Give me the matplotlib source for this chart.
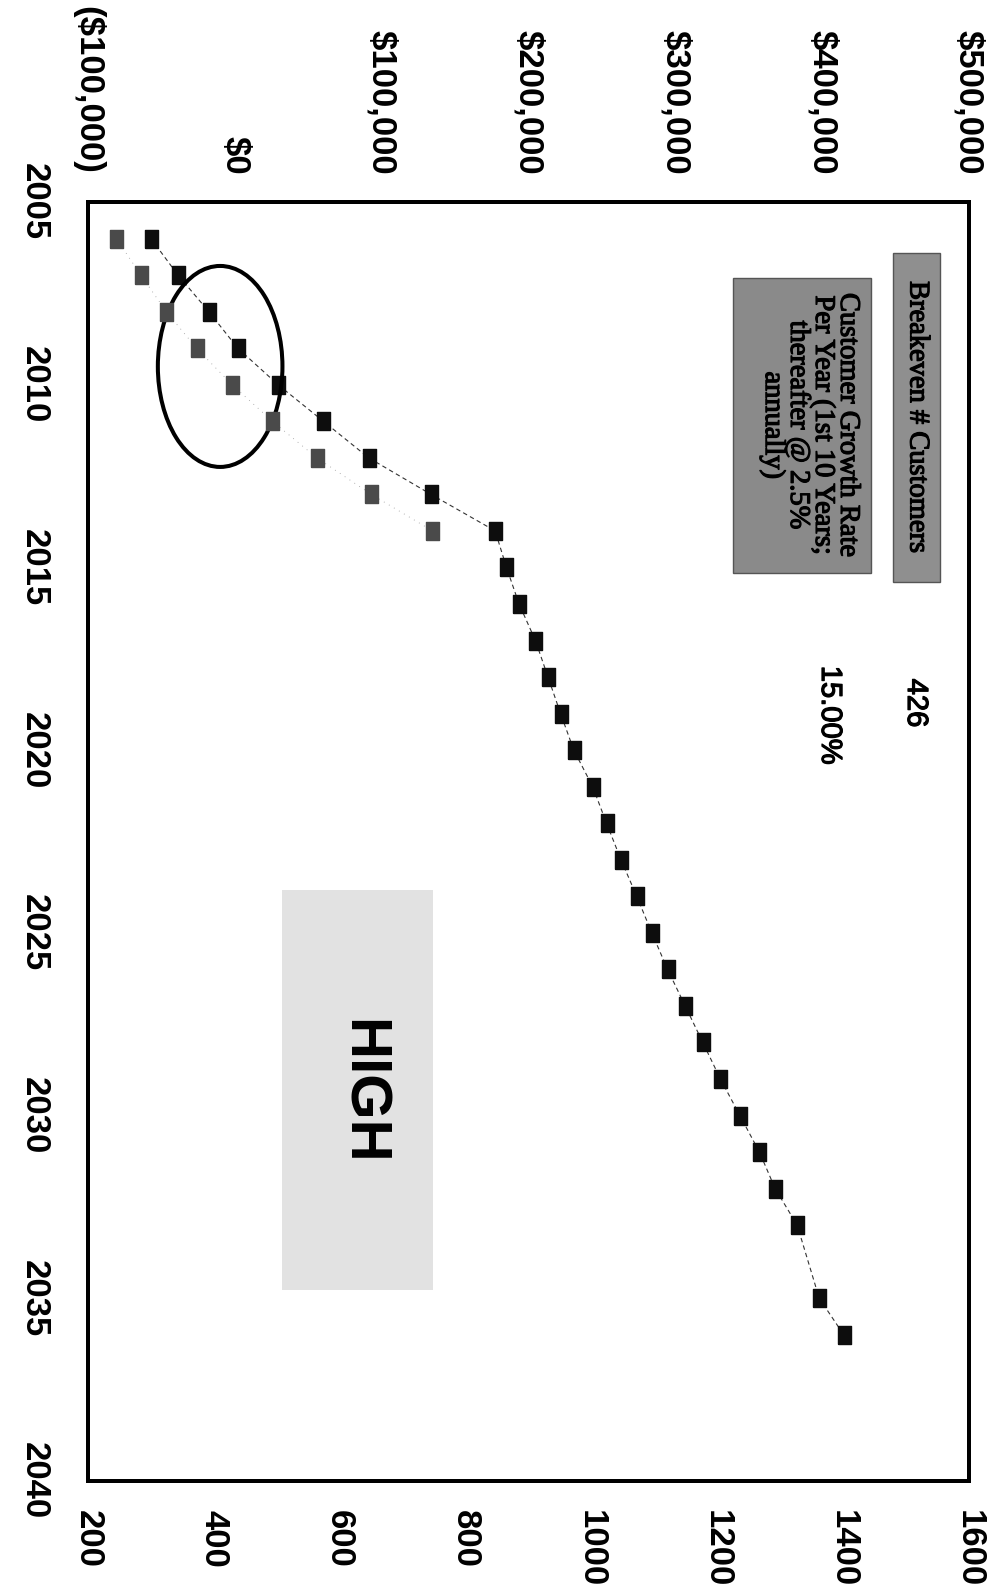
import matplotlib
matplotlib.use("Agg")
import matplotlib.pyplot as plt
import matplotlib.patheffects as pe
from matplotlib.patches import Ellipse, Rectangle

plt.rcParams['font.family'] = ['Liberation Sans', 'DejaVu Sans']

# Customers per year (bottom scale, dark squares)
cust_years = [2006, 2007, 2008, 2009, 2010, 2011, 2012, 2013, 2014, 2015,
              2016, 2017, 2018, 2019, 2020, 2021, 2022, 2023, 2024, 2025,
              2026, 2027, 2028, 2029, 2030, 2031, 2032, 2033, 2035, 2036]
customers = [300, 343, 392, 438, 502, 574, 646, 745, 847, 865,
             885, 911, 931, 951, 972, 1002, 1024, 1047, 1072, 1096,
             1121, 1149, 1177, 1205, 1236, 1267, 1292, 1327, 1362, 1401]

# Net result in dollars (top scale, grey squares)
profit_years = [2006, 2007, 2008, 2009, 2010, 2011, 2012, 2013, 2014]
profit = [-80700, -64000, -46700, -26100, -1900, 25600, 55800, 92900, 134600]

year_ticks = [2005, 2010, 2015, 2020, 2025, 2030, 2035, 2040]
cust_ticks = [200, 400, 600, 800, 1000, 1200, 1400, 1600]
dollar_ticks = [-100000, 0, 100000, 200000, 300000, 400000, 500000]
dollar_labels = ['($100,000)', '$0', '$100,000', '$200,000', '$300,000',
                 '$400,000', '$500,000']

breakeven_label = 'Breakeven # Customers'
breakeven_value = '426'
growth_label = 'Customer Growth Rate\nPer Year (1st 10 Years;\nthereafter @ 2.5%\nannually)'
growth_value = '15.00%'
scenario = 'HIGH'

W, H = 1001, 1586
fig = plt.figure(figsize=(W / 100, H / 100), dpi=100)


def fx(x):
    return x / W


def fy(y):
    return 1 - y / H


# plot frame in pixels: left 88, right 969, top 202, bottom 1481
ax = fig.add_axes([fx(88), fy(1481), fx(969 - 88), (1481 - 202) / H])
ax2 = ax.twiny()

rect_marker = [(-0.36, -0.5), (0.36, -0.5), (0.36, 0.5), (-0.36, 0.5), (-0.36, -0.5)]

ax.plot(customers, cust_years, color='#333333', lw=0.8, ls=(0, (4, 3)),
        marker=rect_marker, markersize=13, markerfacecolor='#0d0d0d',
        markeredgecolor='#0d0d0d', zorder=3)
ax2.plot(profit, profit_years, color='#999999', lw=0.6, ls=(0, (1, 6)),
         marker=rect_marker, markersize=13, markerfacecolor='#4a4a4a',
         markeredgecolor='#4a4a4a', zorder=3)

ax.set_xlim(200, 1600)
ax.set_ylim(2040, 2005)
ax2.set_xlim(-100000, 500000)

ax.set_xticks(cust_ticks)
ax.set_xticklabels([str(v) for v in cust_ticks])
ax.set_yticks(year_ticks)
ax.set_yticklabels([str(v) for v in year_ticks])
ax2.set_xticks(dollar_ticks)
ax2.set_xticklabels(dollar_labels)

ax.tick_params(axis='x', length=0, pad=21, labelsize=25, labelrotation=-90)
ax.tick_params(axis='y', length=0, pad=27, labelsize=25, labelrotation=-90)
ax2.tick_params(axis='x', length=0, pad=20, labelsize=25, labelrotation=-90)
for lbl in ax.get_xticklabels() + ax.get_yticklabels() + ax2.get_xticklabels():
    lbl.set_fontweight('bold')
for lbl in ax.get_yticklabels():
    lbl.set_va('center')

for a in (ax, ax2):
    for sp in a.spines.values():
        sp.set_linewidth(2.8)
        sp.set_color('black')

# circle around the breakeven crossing
ax.add_patch(Ellipse((410, 2009.5), 198, 5.5, fill=False, lw=2.9,
                     ec='black', zorder=5))

# text boxes
fig.patches.append(Rectangle((fx(893), fy(582)), fx(940 - 893), (582 - 253) / H,
                             transform=fig.transFigure, fc='#8f8f8f', ec='#555555', lw=1))
fig.patches.append(Rectangle((fx(733), fy(573)), fx(871 - 733), (573 - 278) / H,
                             transform=fig.transFigure, fc='#8a8a8a', ec='#555555', lw=1))
fig.patches.append(Rectangle((fx(282), fy(1290)), fx(433 - 282), (1290 - 890) / H,
                             transform=fig.transFigure, fc='#e2e2e2', ec='none'))

heavy = [pe.withStroke(linewidth=0.9, foreground='black')]

fig.text(fx(917), fy(417), breakeven_label, rotation=-90, ha='center', va='center',
         family='Liberation Serif', fontsize=20.5, path_effects=heavy)
fig.text(fx(810), fy(425), growth_label, rotation=-90, ha='center', va='center',
         family='Liberation Serif', fontsize=20.5, linespacing=1.0,
         multialignment='center', path_effects=heavy)
fig.text(fx(916), fy(703), breakeven_value, rotation=-90, ha='center', va='center',
         fontsize=21, path_effects=heavy)
fig.text(fx(830), fy(715), growth_value, rotation=-90, ha='center', va='center',
         fontsize=21, path_effects=heavy)
fig.text(fx(362), fy(1092), scenario, rotation=-90, ha='center', va='center',
         fontsize=42, fontweight='bold')

fig.savefig('out.png', dpi=100)
